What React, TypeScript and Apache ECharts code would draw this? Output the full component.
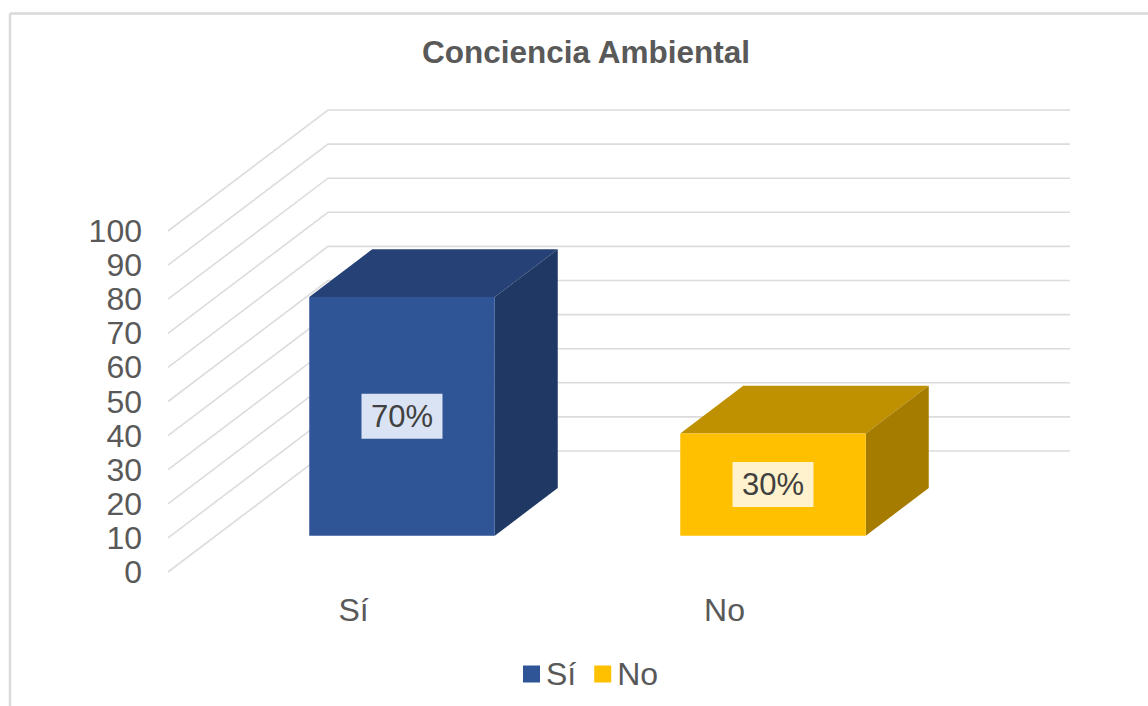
import React, { useEffect, useRef } from "react";
import * as echarts from "echarts";

const titleText = "Conciencia Ambiental";
const categories = ["Sí", "No"];
const siValues = [[0, 70]];
const noValues = [[1, 30]];
const yTicks = [0, 10, 20, 30, 40, 50, 60, 70, 80, 90, 100];

const FONT = '"Liberation Sans", Arial, sans-serif';
const WALL_DX = 160;
const WALL_DY = 121;
const BAR_DX = 63;
const BAR_DY = 47.7;
const BAR_OFF_X = 48.5;
const BAR_OFF_Y = 36.3;

function gridRender(params: any, api: any) {
  const cs = params.coordSys;
  const y = api.coord([0, api.value(1)])[1];
  return {
    type: "polyline",
    silent: true,
    shape: {
      points: [
        [cs.x, y],
        [cs.x + WALL_DX, y - WALL_DY],
        [cs.x + cs.width + WALL_DX, y - WALL_DY],
      ],
    },
    style: { stroke: "#dcdcdc", lineWidth: 1.6, fill: "none" },
  };
}

function barRender(colors: { front: string; top: string; side: string; label: string }) {
  return (_params: any, api: any) => {
    const value = api.value(1);
    const top = api.coord([api.value(0), value]);
    const base = api.coord([api.value(0), 0]);
    const w = api.size([1, 0])[0] * 0.5;
    const x0 = top[0] + BAR_OFF_X - w / 2;
    const x1 = x0 + w;
    const yT = top[1] - BAR_OFF_Y;
    const yB = base[1] - BAR_OFF_Y;
    const cx = (x0 + x1) / 2;
    const cy = (yT + yB) / 2;
    return {
      type: "group",
      children: [
        {
          type: "polygon",
          shape: { points: [[x0, yT], [x0 + BAR_DX, yT - BAR_DY], [x1 + BAR_DX, yT - BAR_DY], [x1, yT]] },
          style: { fill: colors.top },
        },
        {
          type: "polygon",
          shape: { points: [[x1, yT], [x1 + BAR_DX, yT - BAR_DY], [x1 + BAR_DX, yB - BAR_DY], [x1, yB]] },
          style: { fill: colors.side },
        },
        {
          type: "rect",
          shape: { x: x0, y: yT, width: w, height: yB - yT },
          style: { fill: colors.front },
        },
        {
          type: "rect",
          shape: { x: cx - 40.5, y: cy - 22.5, width: 81, height: 45 },
          style: { fill: colors.label },
        },
        {
          type: "text",
          style: {
            x: cx,
            y: cy,
            text: `${value}%`,
            fill: "#404040",
            font: `31px ${FONT}`,
            align: "center",
            verticalAlign: "middle",
          },
        },
      ],
    };
  };
}

export default function App() {
  const ref = useRef<HTMLDivElement>(null);

  useEffect(() => {
    document.body.style.margin = "0";
    document.body.style.background = "#ffffff";
    const chart = echarts.init(ref.current!, undefined, { renderer: "svg" });
    chart.setOption({
      animation: false,
      backgroundColor: "#ffffff",
      title: {
        text: titleText,
        left: 417,
        top: 31,
        textStyle: { color: "#595959", fontSize: 31.5, fontWeight: "bold", fontFamily: FONT },
      },
      legend: {
        data: categories,
        left: 518,
        top: 653,
        itemWidth: 17,
        itemHeight: 17,
        itemGap: 18,
        icon: "rect",
        textStyle: { color: "#595959", fontSize: 32, fontFamily: FONT, padding: [0, 0, 0, 1] },
      },
      grid: { left: 168, top: 231, width: 742, height: 341 },
      xAxis: {
        type: "category",
        data: categories,
        axisLine: { show: false },
        axisTick: { show: false },
        splitLine: { show: false },
        axisLabel: { color: "#595959", fontSize: 32, fontFamily: FONT, margin: 22 },
      },
      yAxis: {
        type: "value",
        min: 0,
        max: 100,
        interval: 10,
        axisLine: { show: false },
        axisTick: { show: false },
        splitLine: { show: false },
        axisLabel: { color: "#595959", fontSize: 32, fontFamily: FONT, margin: 26, padding: [0, 0, 4, 0] },
      },
      graphic: [
        { type: "line", shape: { x1: 10, y1: 13.5, x2: 1148, y2: 13.5 }, style: { stroke: "#d9d9d9", lineWidth: 2.4 } },
        { type: "line", shape: { x1: 10, y1: 13.5, x2: 10, y2: 706 }, style: { stroke: "#d9d9d9", lineWidth: 2.4 } },
      ],
      series: [
        {
          type: "custom",
          name: "grid",
          clip: false,
          silent: true,
          data: yTicks.map((t) => [0, t]),
          encode: { x: 0, y: 1 },
          renderItem: gridRender,
          z: 1,
        },
        {
          type: "custom",
          name: categories[0],
          clip: false,
          data: siValues,
          encode: { x: 0, y: 1 },
          itemStyle: { color: "#2f5597" },
          renderItem: barRender({ front: "#2f5597", top: "#254175", side: "#1f3864", label: "#dae3f3" }),
          z: 2,
        },
        {
          type: "custom",
          name: categories[1],
          clip: false,
          data: noValues,
          encode: { x: 0, y: 1 },
          itemStyle: { color: "#ffc000" },
          renderItem: barRender({ front: "#ffc000", top: "#bf9000", side: "#a67c00", label: "#fff2cc" }),
          z: 2,
        },
      ],
    });
    return () => chart.dispose();
  }, []);

  return <div ref={ref} style={{ position: "absolute", left: 0, top: 0, width: 1148, height: 706 }} />;
}
